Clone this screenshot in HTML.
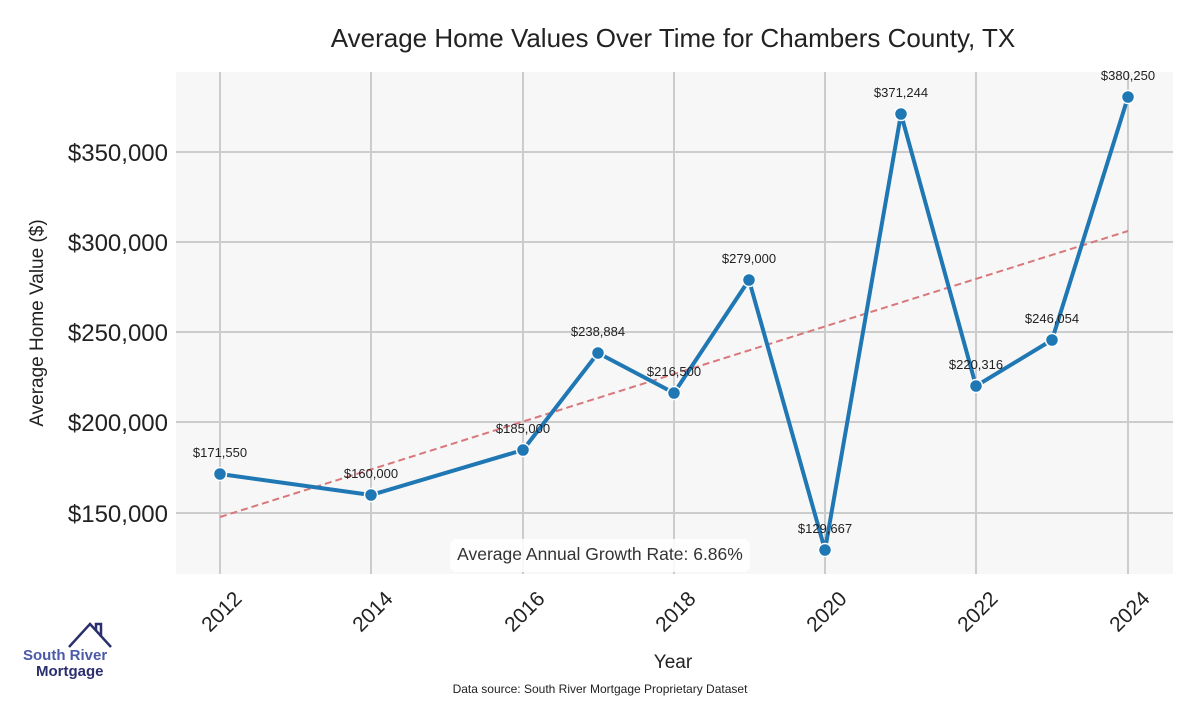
<!DOCTYPE html>
<html><head><meta charset="utf-8"><style>
body{margin:0;width:1200px;height:700px;background:#fff;overflow:hidden}
svg text{font-family:"Liberation Sans",sans-serif}
</style></head><body>
<svg width="1200" height="700" viewBox="0 0 1200 700">
<rect x="176" y="72" width="997" height="502" fill="#f7f7f7"/>
<g stroke="#cccccc" stroke-width="2">
<line x1="220" y1="72" x2="220" y2="574"/><line x1="371" y1="72" x2="371" y2="574"/><line x1="523" y1="72" x2="523" y2="574"/><line x1="674" y1="72" x2="674" y2="574"/><line x1="825" y1="72" x2="825" y2="574"/><line x1="976" y1="72" x2="976" y2="574"/><line x1="1128" y1="72" x2="1128" y2="574"/>
<line x1="176" y1="152" x2="1173" y2="152"/><line x1="176" y1="242" x2="1173" y2="242"/><line x1="176" y1="332" x2="1173" y2="332"/><line x1="176" y1="422" x2="1173" y2="422"/><line x1="176" y1="513" x2="1173" y2="513"/>
</g>
<line x1="220" y1="517" x2="1128" y2="231" stroke="#d9787c" stroke-width="2" stroke-dasharray="7,4"/>
<polyline fill="none" stroke="#1f77b4" stroke-width="4" stroke-linejoin="round" points="220,474 371,495 523,450 598,353 674,393 749,280 825,550 901,114 976,386 1052,340 1128,97"/>
<g fill="#1f77b4" stroke="#fff" stroke-width="1.5">
<circle cx="220" cy="474" r="6.5"/><circle cx="371" cy="495" r="6.5"/><circle cx="523" cy="450" r="6.5"/><circle cx="598" cy="353" r="6.5"/><circle cx="674" cy="393" r="6.5"/><circle cx="749" cy="280" r="6.5"/><circle cx="825" cy="550" r="6.5"/><circle cx="901" cy="114" r="6.5"/><circle cx="976" cy="386" r="6.5"/><circle cx="1052" cy="340" r="6.5"/><circle cx="1128" cy="97" r="6.5"/>
</g>
<g font-size="13" fill="#222" text-anchor="middle">
<text x="220" y="457">$171,550</text><text x="371" y="478">$160,000</text><text x="523" y="433">$185,000</text><text x="598" y="336">$238,884</text><text x="674" y="376">$216,500</text><text x="749" y="263">$279,000</text><text x="825" y="533">$129,667</text><text x="901" y="97">$371,244</text><text x="976" y="369">$220,316</text><text x="1052" y="323">$246,054</text><text x="1128" y="80">$380,250</text>
</g>
<rect x="450" y="539" width="300" height="33" rx="7" fill="#fff" opacity="0.85"/>
<text x="600" y="560" font-size="17.5" fill="#333" text-anchor="middle">Average Annual Growth Rate: 6.86%</text>
<text x="673" y="47" font-size="26" fill="#222" text-anchor="middle">Average Home Values Over Time for Chambers County, TX</text>
<g font-size="24" fill="#222" text-anchor="end">
<text x="168" y="161">$350,000</text><text x="168" y="251">$300,000</text><text x="168" y="341">$250,000</text><text x="168" y="431">$200,000</text><text x="168" y="522">$150,000</text>
</g>
<text transform="translate(43,323) rotate(-90)" font-size="19" fill="#222" text-anchor="middle">Average Home Value ($)</text>
<g font-size="21" fill="#222" text-anchor="end">
<text transform="translate(243,600) rotate(-45)">2012</text><text transform="translate(394,600) rotate(-45)">2014</text><text transform="translate(546,600) rotate(-45)">2016</text><text transform="translate(697,600) rotate(-45)">2018</text><text transform="translate(848,600) rotate(-45)">2020</text><text transform="translate(999,600) rotate(-45)">2022</text><text transform="translate(1151,600) rotate(-45)">2024</text>
</g>
<text x="673" y="668" font-size="19" fill="#222" text-anchor="middle">Year</text>
<text x="600" y="693" font-size="12" fill="#222" text-anchor="middle">Data source: South River Mortgage Proprietary Dataset</text>
<polyline points="69,647 90,624 111,647" fill="none" stroke="#2a2f6e" stroke-width="2.5"/>
<polyline points="96,631 96,624 101,624 101,637" fill="none" stroke="#2a2f6e" stroke-width="2.5"/>
<text x="23" y="660" font-size="15" font-weight="bold" fill="#4a5aa8">South River</text>
<text x="36" y="676" font-size="15" font-weight="bold" fill="#2a2f6e">Mortgage</text>
</svg>
</body></html>
